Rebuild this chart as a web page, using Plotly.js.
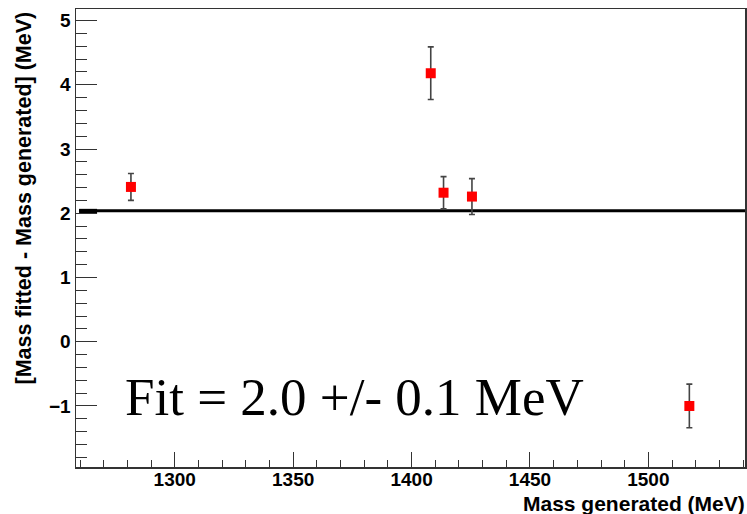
<!DOCTYPE html>
<html>
<head>
<meta charset="utf-8">
<script src="https://cdn.plot.ly/plotly-3.0.1.min.js"></script>
<style>
html,body{margin:0;padding:0;background:#fff;}
#chart{width:747px;height:514px;}
</style>
</head>
<body>
<div id="chart"></div>
<script>
// Data
var massGenerated = [1281.5, 1408.1, 1413.5, 1425.5, 1517.3];
var massDiff      = [2.41, 4.18, 2.32, 2.26, -1.00];
var massDiffErr   = [0.21, 0.41, 0.25, 0.28, 0.34];
var fitX = [1259.6, 1541];
var fitY = [2.04, 2.04];
var fitStubX = [1259.6, 1267.2];
var fitStubY = [2.03, 2.03];
var fitLabel = "Fit = 2.0 +/- 0.1 MeV";
var xTitle = "Mass generated (MeV)";
var yTitle = "[Mass fitted - Mass generated] (MeV)";

var traces = [
  {
    x: fitX, y: fitY, mode: 'lines', type: 'scatter',
    line: {color: '#000', width: 3}, hoverinfo: 'skip', showlegend: false
  },
  {
    x: fitStubX, y: fitStubY, mode: 'lines', type: 'scatter',
    line: {color: '#000', width: 5}, hoverinfo: 'skip', showlegend: false
  },
  {
    x: massGenerated, y: massDiff, mode: 'markers', type: 'scatter',
    marker: {symbol: 'square', size: 10, color: '#ff0000'},
    error_y: {type: 'data', array: massDiffErr, visible: true, color: '#444', thickness: 1.6, width: 3},
    showlegend: false
  }
];

var tickFont = {family: 'Liberation Sans, Arial, sans-serif', size: 19, color: '#000', weight: 'bold'};

var layout = {
  width: 747, height: 514,
  margin: {l: 76, r: 2, t: 9, b: 47},
  paper_bgcolor: '#fff', plot_bgcolor: '#fff',
  showlegend: false,
  xaxis: {
    range: [1258.3, 1540.8],
    tick0: 1300, dtick: 50,
    ticks: 'inside', ticklen: 15, tickwidth: 1, tickcolor: '#333',
    minor: {dtick: 10, tick0: 1300, ticks: 'inside', ticklen: 7, tickwidth: 1, tickcolor: '#333', showgrid: false},
    showgrid: false, zeroline: false,
    showline: true, linecolor: '#333', linewidth: 1.5, mirror: true,
    tickfont: tickFont, tickprefix: '<b>', ticksuffix: '</b>', ticklabelstandoff: -5
  },
  yaxis: {
    range: [-1.95, 5.18],
    tick0: 0, dtick: 1,
    ticks: 'inside', ticklen: 21, tickwidth: 1, tickcolor: '#333',
    minor: {dtick: 0.2, tick0: 0, ticks: 'inside', ticklen: 11, tickwidth: 1, tickcolor: '#333', showgrid: false},
    showgrid: false, zeroline: false,
    showline: true, linecolor: '#333', linewidth: 1.5, mirror: true,
    tickfont: tickFont, tickprefix: '<b>', ticksuffix: '</b>', ticklabelstandoff: 0
  },
  annotations: [
    {
      text: fitLabel, xref: 'paper', yref: 'paper',
      x: 0.070, y: 0.153, xanchor: 'left', yanchor: 'middle', showarrow: false,
      font: {family: 'Liberation Serif, Times New Roman, serif', size: 53, color: '#000'}
    },
    {
      text: '<b>' + xTitle + '</b>', xref: 'paper', yref: 'paper',
      x: 1.0, xshift: 2, y: 0, yshift: -36, xanchor: 'right', yanchor: 'middle', showarrow: false,
      font: {family: 'Liberation Sans, Arial, sans-serif', size: 21, color: '#000'}
    },
    {
      text: '<b>' + yTitle + '</b>', xref: 'paper', yref: 'paper', textangle: -90,
      x: 0, xshift: -53, y: 1.0, yshift: -1, xanchor: 'center', yanchor: 'top', showarrow: false,
      font: {family: 'Liberation Sans, Arial, sans-serif', size: 21.5, color: '#000'}
    }
  ]
};

Plotly.newPlot('chart', traces, layout, {displayModeBar: false, staticPlot: true});
</script>
</body>
</html>
